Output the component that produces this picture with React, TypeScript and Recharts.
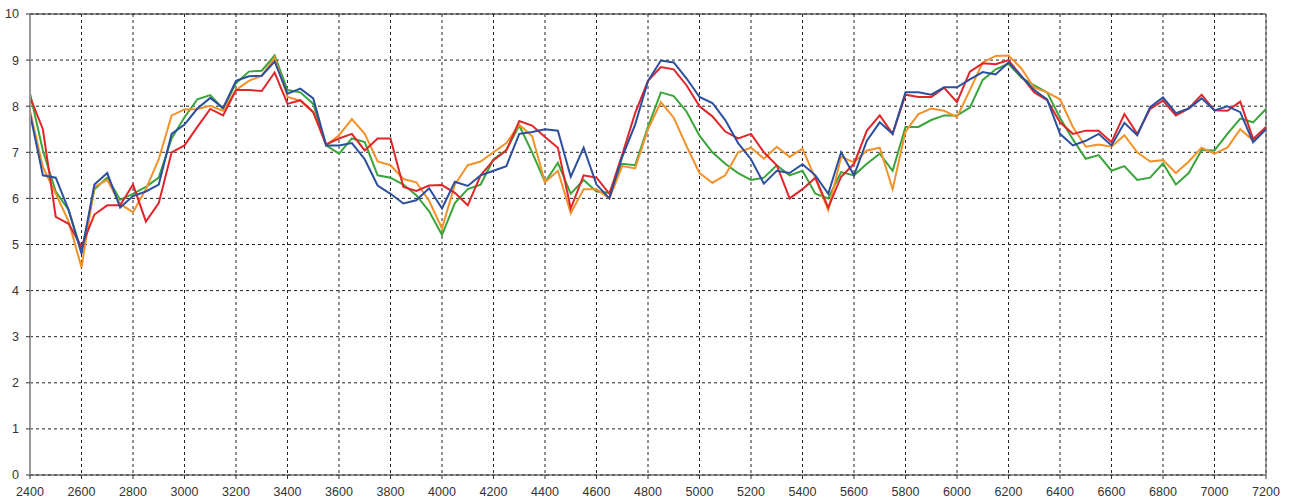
import React from "react";
import {
  LineChart, Line, XAxis, YAxis, CartesianGrid, ReferenceLine,
} from "recharts";

// x positions: 2400..7200 every 50
const xStart = 2400;
const xStep = 50;

const blueValues = [
  7.84, 6.5, 6.45, 5.75, 4.8, 6.3, 6.55, 5.8, 6.05, 6.15, 6.3, 7.4, 7.6,
  7.95, 8.18, 7.96, 8.55, 8.65, 8.66, 8.97, 8.27, 8.38, 8.17, 7.15, 7.15,
  7.2, 6.85, 6.28, 6.1, 5.89, 5.96, 6.22, 5.78, 6.36, 6.27, 6.5, 6.6, 6.7, 7.4, 7.44, 7.5, 7.47, 6.47, 7.1, 6.3, 6.0, 6.9, 7.6, 8.55, 8.99,
  8.95, 8.6, 8.2, 8.07, 7.7, 7.2, 6.85, 6.32, 6.6, 6.55, 6.74, 6.5, 6.1, 7.0, 6.5, 7.25, 7.65, 7.4, 8.3, 8.3, 8.25, 8.41, 8.41,
  8.58, 8.74, 8.69, 8.95, 8.65, 8.35, 8.15, 7.4, 7.15, 7.25, 7.4, 7.15, 7.64, 7.37, 7.98, 8.19, 7.85, 7.95, 8.17, 7.91, 8.0, 7.87, 7.22, 7.5,
];

const redValues = [
  8.2, 7.5, 5.6, 5.45, 4.95, 5.65, 5.85, 5.85, 6.3, 5.5, 5.9, 7.0, 7.15,
  7.55, 7.94, 7.8, 8.35, 8.35, 8.33, 8.73, 8.05, 8.13, 7.87, 7.17, 7.3,
  7.4, 7.04, 7.3, 7.3, 6.25, 6.16, 6.28, 6.29, 6.12, 5.85, 6.5, 6.83, 7.04, 7.68, 7.58, 7.33, 7.1, 5.78, 6.5, 6.45, 6.1, 6.95, 7.85, 8.55, 8.85,
  8.8, 8.45, 8.0, 7.78, 7.45, 7.3, 7.4, 7.0, 6.72, 6.0, 6.2, 6.45, 5.8, 6.47, 6.75, 7.47, 7.8, 7.4, 8.25, 8.2, 8.2, 8.4, 8.09,
  8.75, 8.93, 8.91, 9.0, 8.65, 8.3, 8.13, 7.65, 7.4, 7.47, 7.47, 7.22, 7.83, 7.4, 7.94, 8.12, 7.8, 7.95, 8.25, 7.91, 7.9, 8.1, 7.29, 7.55,
];

const greenValues = [
  8.28, 7.04, 6.15, 5.75, 4.85, 6.2, 6.45, 5.97, 6.1, 6.25, 6.45, 7.3, 7.76,
  8.15, 8.24, 7.94, 8.5, 8.75, 8.77, 9.1, 8.35, 8.3, 8.05, 7.15, 6.97,
  7.3, 7.22, 6.5, 6.45, 6.3, 6.07, 5.72, 5.21, 5.9, 6.2, 6.3, 6.85, 7.05, 7.58, 7.0, 6.35, 6.77, 6.1, 6.4, 6.15, 6.12, 6.75, 6.72, 7.55, 8.3,
  8.22, 7.88, 7.36, 7.0, 6.75, 6.55, 6.4, 6.45, 6.72, 6.5, 6.6, 6.1, 6.0, 6.57, 6.5, 6.75, 6.97, 6.6, 7.55, 7.55, 7.7, 7.8, 7.8,
  7.97, 8.57, 8.8, 8.92, 8.62, 8.45, 8.3, 7.75, 7.28, 6.86, 6.94, 6.6, 6.7, 6.4, 6.45, 6.76, 6.3, 6.55, 7.05, 7.04, 7.4, 7.73, 7.65, 7.94,
];

const orangeValues = [
  7.9, 6.68, 6.1, 5.5, 4.5, 6.25, 6.4, 5.88, 5.7, 6.2, 6.85, 7.8, 7.93,
  7.94, 8.01, 7.9, 8.35, 8.55, 8.66, 9.05, 8.2, 8.12, 7.87, 7.15, 7.37,
  7.72, 7.4, 6.8, 6.72, 6.42, 6.35, 5.95, 5.35, 6.3, 6.72, 6.8, 7.0, 7.2, 7.6, 7.35, 6.35, 6.6, 5.68, 6.2, 6.2, 6.0, 6.7, 6.65, 7.5, 8.09,
  7.75, 7.13, 6.55, 6.34, 6.5, 7.0, 7.1, 6.86, 7.12, 6.9, 7.08, 6.43, 5.75, 6.9, 6.78, 7.04, 7.1, 6.2, 7.45, 7.83, 7.95, 7.9, 7.76,
  8.35, 8.95, 9.09, 9.1, 8.82, 8.4, 8.3, 8.15, 7.55, 7.12, 7.17, 7.12, 7.37, 7.0, 6.8, 6.83, 6.55, 6.8, 7.1, 6.97, 7.1, 7.5, 7.26, 7.5,
];

const xTicks = [2400, 2600, 2800, 3000, 3200, 3400, 3600, 3800, 4000, 4200, 4400, 4600,
  4800, 5000, 5200, 5400, 5600, 5800, 6000, 6200, 6400, 6600, 6800, 7000, 7200];
const yTicks = [0, 1, 2, 3, 4, 5, 6, 7, 8, 9, 10];

const data = blueValues.map((b, i) => ({
  x: xStart + i * xStep,
  blue: b,
  red: redValues[i],
  green: greenValues[i],
  orange: orangeValues[i],
}));

const tickStyle = { fill: "#333", fontSize: 12.5, fontFamily: "Liberation Sans, Arial, sans-serif" };

export default function App() {
  return (
    <div style={{ position: "absolute", left: 0, top: 0, background: "#fff" }}>
      <LineChart width={1290} height={499} data={data}
        margin={{ top: 14, right: 24, left: 0, bottom: 0 }}>
        <CartesianGrid stroke="#222" strokeDasharray="3 3" />
        <XAxis
          dataKey="x"
          type="number"
          domain={[2400, 7200]}
          ticks={xTicks}
          height={24}
          interval={0}
          stroke="#333"
          tickSize={4}
          tickMargin={8}
          tick={tickStyle}
        />
        <YAxis
          domain={[0, 10]}
          ticks={yTicks}
          width={30}
          interval={0}
          axisLine={{ stroke: "#999", strokeWidth: 2 }}
          tickLine={{ stroke: "#333" }}
          tickSize={4}
          tickMargin={7}
          tick={tickStyle}
        />
        <ReferenceLine y={10} stroke="#222" strokeWidth={1} />
        <ReferenceLine x={7200} stroke="#555" strokeWidth={1} />
        <Line dataKey="green" stroke="#3aa53a" strokeWidth={2} dot={false} isAnimationActive={false} />
        <Line dataKey="orange" stroke="#f3922a" strokeWidth={2} dot={false} isAnimationActive={false} />
        <Line dataKey="red" stroke="#e0262b" strokeWidth={2} dot={false} isAnimationActive={false} />
        <Line dataKey="blue" stroke="#2c4f9e" strokeWidth={2} dot={false} isAnimationActive={false} />
      </LineChart>
    </div>
  );
}
